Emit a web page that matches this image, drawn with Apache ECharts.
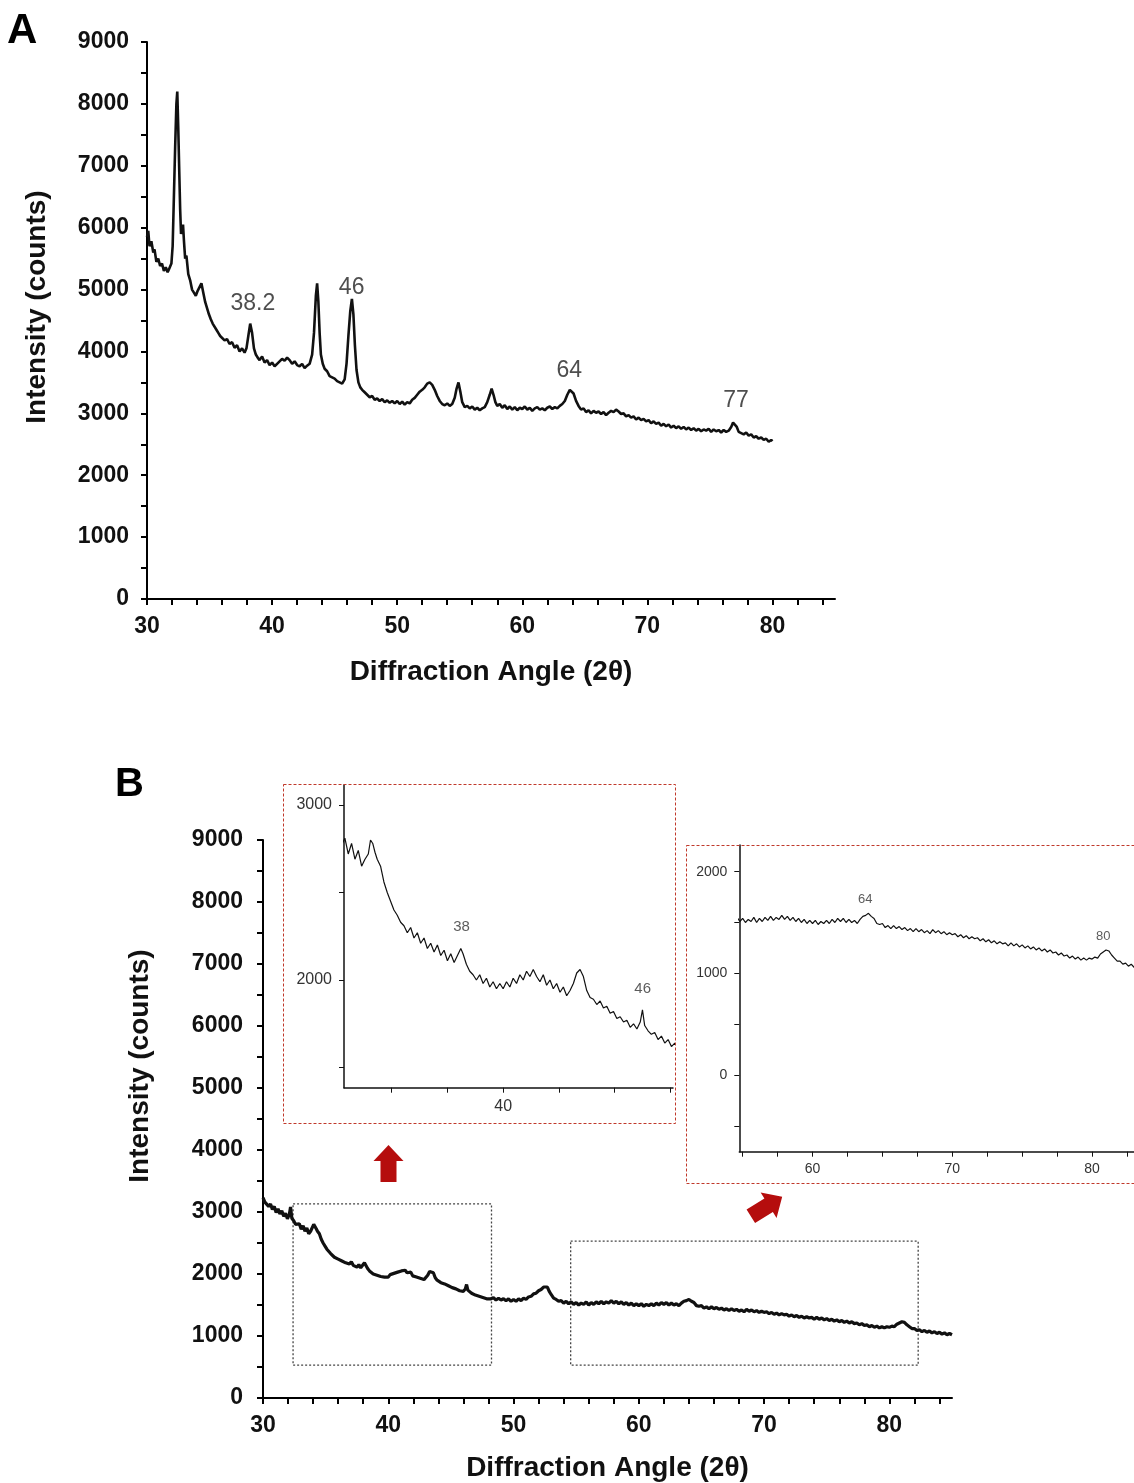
<!DOCTYPE html>
<html>
<head>
<meta charset="utf-8">
<script src="https://cdn.jsdelivr.net/npm/echarts@6/dist/echarts.min.js"></script>
<style>
html,body{margin:0;padding:0;background:#fff;}
#c{width:1134px;height:1483px;}
</style>
</head>
<body>
<div id="c"></div>
<script>
// ---------- DATA ----------
// Panel A: XRD pattern [2theta, counts]
const xrdA = [
[30.0,5850],[30.1,5950],[30.2,5700],[30.35,5780],[30.5,5600],[30.6,5650],[30.75,5450],[30.9,5500],[31.05,5380],[31.2,5420],
[31.35,5300],[31.5,5360],[31.65,5280],[31.8,5350],[31.95,5420],[32.05,5700],[32.15,6500],[32.25,7300],[32.35,8000],[32.42,8200],
[32.5,7600],[32.58,6900],[32.65,6300],[32.72,5900],[32.8,5950],[32.88,6050],[32.95,5800],[33.05,5500],[33.15,5550],[33.3,5250],
[33.45,5150],[33.6,5000],[33.75,4950],[33.9,4900],[34.05,4980],[34.2,5000],[34.35,5100],[34.5,4950],[34.65,4800],[34.8,4700],
[34.95,4600],[35.1,4520],[35.25,4450],[35.4,4420],[35.55,4350],[35.7,4300],[35.85,4250],[36.0,4230],[36.2,4180],[36.4,4200],
[36.6,4120],[36.8,4150],[37.0,4060],[37.2,4100],[37.4,4000],[37.6,4050],[37.8,3980],[37.95,4050],[38.1,4250],[38.25,4450],
[38.4,4300],[38.55,4050],[38.7,3950],[38.85,3900],[39.0,3860],[39.2,3920],[39.4,3820],[39.6,3860],[39.8,3780],[40.0,3820],
[40.2,3760],[40.4,3800],[40.6,3840],[40.8,3880],[41.0,3850],[41.2,3900],[41.4,3860],[41.6,3800],[41.8,3840],[42.0,3780],
[42.2,3760],[42.4,3800],[42.6,3730],[42.8,3770],[43.0,3800],[43.2,3950],[43.35,4300],[43.5,4900],[43.6,5100],[43.7,4800],
[43.8,4300],[43.9,3950],[44.05,3800],[44.2,3720],[44.4,3680],[44.6,3600],[44.8,3580],[45.0,3560],[45.2,3520],[45.4,3500],
[45.6,3480],[45.8,3550],[45.95,3800],[46.1,4250],[46.25,4650],[46.38,4850],[46.5,4600],[46.62,4100],[46.75,3700],[46.9,3500],
[47.05,3420],[47.2,3380],[47.4,3340],[47.6,3300],[47.8,3260],[48.0,3280],[48.2,3220],[48.4,3240],[48.6,3200],[48.8,3230],
[49.0,3180],[49.2,3210],[49.4,3170],[49.6,3200],[49.8,3160],[50.0,3200],[50.2,3150],[50.4,3190],[50.6,3140],[50.8,3180],
[51.0,3160],[51.2,3220],[51.4,3250],[51.6,3300],[51.8,3350],[52.0,3380],[52.2,3420],[52.4,3480],[52.6,3500],[52.8,3460],
[53.0,3380],[53.2,3280],[53.4,3200],[53.6,3150],[53.8,3130],[54.0,3160],[54.2,3120],[54.4,3150],[54.6,3250],[54.75,3400],
[54.9,3500],[55.05,3350],[55.2,3180],[55.4,3100],[55.6,3120],[55.8,3080],[56.0,3110],[56.2,3060],[56.4,3090],[56.6,3050],
[56.8,3080],[57.0,3100],[57.2,3180],[57.4,3300],[57.55,3400],[57.7,3300],[57.85,3180],[58.0,3120],[58.2,3150],[58.4,3090],
[58.6,3130],[58.8,3070],[59.0,3110],[59.2,3060],[59.4,3100],[59.6,3050],[59.8,3090],[60.0,3070],[60.2,3110],[60.4,3060],
[60.6,3090],[60.8,3040],[61.0,3080],[61.2,3100],[61.4,3060],[61.6,3080],[61.8,3050],[62.0,3090],[62.2,3110],[62.4,3070],
[62.6,3100],[62.8,3080],[63.0,3120],[63.2,3150],[63.4,3200],[63.6,3300],[63.8,3380],[63.95,3400],[64.1,3320],[64.3,3200],
[64.5,3120],[64.7,3060],[64.9,3080],[65.1,3020],[65.3,3050],[65.5,3000],[65.7,3040],[65.9,3010],[66.1,3030],[66.3,2990],
[66.5,3020],[66.7,2970],[66.9,3010],[67.1,3040],[67.3,3020],[67.5,3060],[67.7,3030],[67.9,2990],[68.1,3000],[68.3,2950],
[68.5,2970],[68.7,2930],[68.9,2950],[69.1,2900],[69.3,2930],[69.5,2890],[69.7,2910],[69.9,2870],[70.1,2890],[70.3,2840],
[70.5,2870],[70.7,2830],[70.9,2850],[71.1,2800],[71.3,2830],[71.5,2790],[71.7,2820],[71.9,2770],[72.1,2800],[72.3,2760],
[72.5,2790],[72.7,2750],[72.9,2780],[73.1,2740],[73.3,2770],[73.5,2730],[73.7,2760],[73.9,2720],[74.1,2750],[74.3,2710],
[74.5,2740],[74.7,2720],[74.9,2750],[75.1,2700],[75.3,2740],[75.5,2710],[75.7,2730],[75.9,2690],[76.1,2730],[76.3,2700],
[76.5,2720],[76.7,2780],[76.85,2850],[77.0,2880],[77.15,2780],[77.3,2700],[77.5,2680],[77.7,2660],[77.9,2690],[78.1,2640],
[78.3,2660],[78.5,2610],[78.7,2630],[78.9,2590],[79.1,2610],[79.3,2570],[79.5,2590],[79.7,2540],[79.9,2570],[80.0,2550]
];

// Panel B: XRD pattern [2theta, counts] (also shown in the two zoomed insets)
const xrdB = [
[30.0,3230],[30.15,3160],[30.3,3190],[30.45,3090],[30.6,3130],[30.75,3040],[30.9,3090],[31.05,2990],[31.2,3050],[31.35,2970],
[31.5,3020],[31.65,2930],[31.8,2980],[31.95,2890],[32.1,2960],[32.2,3080],[32.3,2900],[32.45,2860],[32.6,2800],[32.75,2770],
[32.9,2810],[33.05,2720],[33.2,2780],[33.35,2690],[33.5,2740],[33.65,2650],[33.8,2690],[33.95,2720],[34.05,2800],[34.15,2780],
[34.25,2730],[34.35,2690],[34.5,2650],[34.65,2560],[34.8,2500],[34.95,2450],[35.1,2400],[35.25,2370],[35.4,2330],[35.55,2310],
[35.7,2270],[35.85,2300],[36.0,2240],[36.15,2270],[36.3,2210],[36.45,2240],[36.6,2180],[36.75,2210],[36.9,2160],[37.05,2200],
[37.2,2140],[37.35,2170],[37.5,2110],[37.65,2150],[37.8,2100],[37.95,2140],[38.1,2180],[38.2,2150],[38.35,2090],[38.5,2050],
[38.65,2030],[38.8,2000],[38.95,2030],[39.1,1980],[39.25,2010],[39.4,1960],[39.55,1990],[39.7,1950],[39.85,1980],[40.0,1950],
[40.15,1990],[40.3,1960],[40.45,2010],[40.6,1980],[40.75,2030],[40.9,2000],[41.05,2050],[41.2,2020],[41.35,2060],[41.5,2020],
[41.65,1990],[41.8,2030],[41.95,1970],[42.1,2000],[42.25,1950],[42.4,1980],[42.55,1930],[42.7,1960],[42.85,1910],[43.0,1940],
[43.15,1980],[43.3,2040],[43.45,2060],[43.6,2020],[43.75,1940],[43.9,1900],[44.05,1890],[44.2,1860],[44.35,1880],[44.5,1840],
[44.65,1850],[44.8,1810],[44.95,1820],[45.1,1780],[45.25,1790],[45.4,1760],[45.55,1770],[45.7,1730],[45.85,1750],[46.0,1720],
[46.15,1760],[46.25,1830],[46.35,1740],[46.5,1710],[46.65,1690],[46.8,1700],[46.95,1660],[47.1,1680],[47.25,1640],[47.4,1660],
[47.55,1620],[47.7,1640],[47.85,1600],[48.0,1630],[48.2,1600],[48.4,1620],[48.6,1580],[48.8,1610],[49.0,1580],[49.2,1600],
[49.4,1570],[49.6,1600],[49.8,1560],[50.0,1590],[50.2,1560],[50.4,1600],[50.6,1570],[50.8,1610],[51.0,1590],[51.2,1630],
[51.4,1640],[51.6,1680],[51.8,1690],[52.0,1730],[52.2,1750],[52.4,1790],[52.55,1820],[52.7,1790],[52.85,1720],[53.0,1670],
[53.2,1610],[53.4,1590],[53.6,1560],[53.8,1570],[54.0,1530],[54.2,1560],[54.4,1520],[54.6,1550],[54.8,1510],[55.0,1540],
[55.2,1500],[55.4,1530],[55.6,1510],[55.8,1550],[56.0,1500],[56.2,1540],[56.4,1510],[56.6,1550],[56.8,1520],[57.0,1560],
[57.2,1520],[57.4,1550],[57.6,1530],[57.8,1570],[58.0,1530],[58.2,1560],[58.4,1520],[58.6,1550],[58.8,1510],[59.0,1540],
[59.2,1500],[59.4,1530],[59.6,1490],[59.8,1520],[60.0,1490],[60.2,1520],[60.4,1480],[60.6,1510],[60.8,1490],[61.0,1520],
[61.2,1490],[61.4,1530],[61.6,1500],[61.8,1540],[62.0,1510],[62.2,1540],[62.4,1500],[62.6,1530],[62.8,1500],[63.0,1520],
[63.2,1490],[63.4,1530],[63.6,1560],[63.8,1570],[64.0,1590],[64.2,1560],[64.4,1540],[64.6,1490],[64.8,1480],[65.0,1490],
[65.2,1450],[65.4,1470],[65.6,1440],[65.8,1470],[66.0,1440],[66.2,1460],[66.4,1430],[66.6,1450],[66.8,1420],[67.0,1440],
[67.2,1410],[67.4,1440],[67.6,1410],[67.8,1430],[68.0,1400],[68.2,1420],[68.4,1390],[68.6,1430],[68.8,1400],[69.0,1420],
[69.2,1390],[69.4,1410],[69.6,1380],[69.8,1400],[70.0,1380],[70.2,1390],[70.4,1360],[70.6,1380],[70.8,1350],[71.0,1370],
[71.2,1340],[71.4,1360],[71.6,1340],[71.8,1350],[72.0,1320],[72.2,1340],[72.4,1310],[72.6,1330],[72.8,1300],[73.0,1320],
[73.2,1290],[73.4,1310],[73.6,1290],[73.8,1300],[74.0,1270],[74.2,1300],[74.4,1270],[74.6,1290],[74.8,1260],[75.0,1280],
[75.2,1250],[75.4,1270],[75.6,1240],[75.8,1260],[76.0,1230],[76.2,1250],[76.4,1220],[76.6,1240],[76.8,1210],[77.0,1230],
[77.2,1200],[77.4,1210],[77.6,1180],[77.8,1200],[78.0,1170],[78.2,1180],[78.4,1150],[78.6,1170],[78.8,1140],[79.0,1160],
[79.2,1130],[79.4,1150],[79.6,1130],[79.8,1150],[80.0,1140],[80.2,1160],[80.4,1150],[80.6,1190],[80.8,1210],[81.0,1230],
[81.2,1220],[81.4,1180],[81.6,1150],[81.8,1120],[82.0,1120],[82.2,1090],[82.4,1100],[82.6,1070],[82.8,1090],[83.0,1060],
[83.2,1080],[83.4,1050],[83.6,1070],[83.8,1040],[84.0,1060],[84.2,1030],[84.4,1050],[84.6,1020],[84.8,1040],[85.0,1020]
];

// peak annotations [text, 2theta, counts]
const peakLabelsA = [['38.2',38.46,4774],['46',46.36,5032],['64',63.76,3694],['77',77.09,3210]];
const peakLabelsInsetLow = [['38',38.13,2305],['46',46.26,1952]];
const peakLabelsInsetHigh = [['64',63.77,1722],['80',80.8,1361]];

// dotted zoom regions in panel B [[x1,y1],[x2,y2]]
const zoomRegions = [[[32.4,3130],[48.24,530]],[[54.56,2530],[82.3,530]]];

// tick values
const xTicksMain = [30,32,34,36,38,40,42,44,46,48,50,52,54,56,58,60,62,64,66,68,70,72,74,76,78,80,82,84];
const xLabelsMain = [30,40,50,60,70,80];
const yTicksMain = [0,500,1000,1500,2000,2500,3000,3500,4000,4500,5000,5500,6000,6500,7000,7500,8000,8500,9000];
const yLabelsMain = [0,1000,2000,3000,4000,5000,6000,7000,8000,9000];
const xTicksInsetLow = [35,37.5,40,42.5,45,47.5];
const xLabelsInsetLow = [40];
const yTicksInsetLow = [1500,2000,2500,3000];
const yLabelsInsetLow = [2000,3000];
const xTicksInsetHigh = [55,57.5,60,62.5,65,67.5,70,72.5,75,77.5,80,82.5];
const xLabelsInsetHigh = [60,70,80];
const yTicksInsetHigh = [-500,0,500,1000,1500,2000];
const yLabelsInsetHigh = [0,1000,2000];

// ---------- CHART ----------
const FONT = '"Liberation Sans", Arial, sans-serif';
const chart = echarts.init(document.getElementById('c'), null, {renderer:'canvas'});

function mainX(grid, nameGap){
  return {
    gridIndex: grid, type:'value', min:30, max:85,
    axisLine:{show:true, onZero:false, lineStyle:{color:'#000', width:2}},
    axisTick:{show:true, customValues:xTicksMain, length:6, lineStyle:{color:'#000', width:2}},
    axisLabel:{show:true, customValues:xLabelsMain, margin:16, color:'#111', fontFamily:FONT, fontWeight:'bold', fontSize:23, formatter:v=>String(v)},
    splitLine:{show:false},
    name:'Diffraction Angle (2θ)', nameLocation:'middle', nameGap:nameGap,
    nameTextStyle:{color:'#111', fontFamily:FONT, fontWeight:'bold', fontSize:28}
  };
}
function mainY(grid, margin){
  return {
    gridIndex: grid, type:'value', min:0, max:9000,
    axisLine:{show:true, onZero:false, lineStyle:{color:'#000', width:2}},
    axisTick:{show:true, customValues:yTicksMain, length:6, lineStyle:{color:'#000', width:2}},
    axisLabel:{show:true, customValues:yLabelsMain, margin:margin, color:'#111', fontFamily:FONT, fontWeight:'bold', fontSize:23, formatter:v=>String(v)},
    splitLine:{show:false}
  };
}
function insetAxis(grid, min, max, ticks, labels, fs, margin){
  return {
    gridIndex: grid, type:'value', min:min, max:max,
    axisLine:{show:true, onZero:false, lineStyle:{color:'#111', width:1.5}},
    axisTick:{show:true, customValues:ticks, length:5, lineStyle:{color:'#111', width:1}},
    axisLabel:{show:true, customValues:labels, margin:margin, color:'#333', fontFamily:FONT, fontSize:fs, formatter:v=>String(v)},
    splitLine:{show:false}
  };
}
function labelSeries(arr, xi, yi, fs, color){
  return {
    type:'scatter', xAxisIndex:xi, yAxisIndex:yi, silent:true, symbolSize:1,
    itemStyle:{color:'rgba(0,0,0,0)'},
    label:{show:true, position:'inside', formatter:p=>p.name, color:color, fontFamily:FONT, fontSize:fs},
    data: arr.map(d=>({name:d[0], value:[d[1], d[2]]})),
    z:5
  };
}

function arrowPoints(){
  // arrow pointing up, centred on origin
  return [[0,-18.5],[15,-2.5],[8,-2.5],[8,18.5],[-8,18.5],[-8,-2.5],[-15,-2.5]];
}

const option = {
  backgroundColor:'#fff',
  animation:false,
  grid:[
    {left:147, top:42, width:688, height:557},
    {left:263, top:840, width:689, height:558},
    {left:344, top:785, width:329, height:302.7},
    {left:739.3, top:845, width:420, height:306.7}
  ],
  xAxis:[
    mainX(0, 59),
    mainX(1, 56),
    insetAxis(2, 32.86, 47.62, xTicksInsetLow, xLabelsInsetLow, 16, 11),
    insetAxis(3, 54.76, 83, xTicksInsetHigh, xLabelsInsetHigh, 14, 10)
  ],
  yAxis:[
    mainY(0, 18),
    mainY(1, 20),
    insetAxis(2, 1385, 3114, yTicksInsetLow, yLabelsInsetLow, 16, 12),
    insetAxis(3, -754, 2262, yTicksInsetHigh, yLabelsInsetHigh, 14, 12)
  ],
  series:[
    {type:'line', xAxisIndex:0, yAxisIndex:0, data:xrdA, showSymbol:false, symbol:'none',
     lineStyle:{color:'#111', width:2.6}, silent:true},
    {type:'line', xAxisIndex:1, yAxisIndex:1, data:xrdB, showSymbol:false, symbol:'none',
     lineStyle:{color:'#111', width:3.2}, silent:true,
     markArea:{silent:true,
       itemStyle:{color:'rgba(0,0,0,0)', borderColor:'#444', borderWidth:1.3, borderType:[2,2]},
       data: zoomRegions.map(r=>[{coord:r[0]},{coord:r[1]}])}
    },
    {type:'line', xAxisIndex:2, yAxisIndex:2, data:xrdB, showSymbol:false, symbol:'none', clip:true,
     lineStyle:{color:'#111', width:1.2}, silent:true},
    {type:'line', xAxisIndex:3, yAxisIndex:3, data:xrdB, showSymbol:false, symbol:'none', clip:true,
     lineStyle:{color:'#111', width:1.2}, silent:true},
    labelSeries(peakLabelsA, 0, 0, 23, '#222'),
    labelSeries(peakLabelsInsetLow, 2, 2, 15, '#333'),
    labelSeries(peakLabelsInsetHigh, 3, 3, 13, '#333')
  ],
  graphic:[
    {type:'text', x:7, y:31, style:{text:'A', font:'bold 42px '+FONT, fill:'#000', textAlign:'left', textVerticalAlign:'middle', align:'left', verticalAlign:'middle'}},
    {type:'text', x:115, y:785, style:{text:'B', font:'bold 40px '+FONT, fill:'#000', textAlign:'left', textVerticalAlign:'middle', align:'left', verticalAlign:'middle'}},
    {type:'text', x:37, y:307, rotation:Math.PI/2, style:{text:'Intensity (counts)', font:'bold 28px '+FONT, fill:'#111', textAlign:'center', textVerticalAlign:'middle', align:'center', verticalAlign:'middle'}},
    {type:'text', x:140, y:1066, rotation:Math.PI/2, style:{text:'Intensity (counts)', font:'bold 28px '+FONT, fill:'#111', textAlign:'center', textVerticalAlign:'middle', align:'center', verticalAlign:'middle'}},
    {type:'rect', shape:{x:283.5, y:784.5, width:392, height:339}, style:{fill:'none', stroke:'#c0392b', lineWidth:1, lineDash:[3,2]}, z:1},
    {type:'rect', shape:{x:686.5, y:845.5, width:470, height:338}, style:{fill:'none', stroke:'#c0392b', lineWidth:1, lineDash:[3,2]}, z:1},
    {type:'polygon', x:388.5, y:1163.5, shape:{points:arrowPoints()}, style:{fill:'#b50d0d'}},
    {type:'polygon', x:766.5, y:1206.5, rotation:-58*Math.PI/180, shape:{points:arrowPoints()}, style:{fill:'#b50d0d'}}
  ]
};
chart.setOption(option);
</script>
</body>
</html>
